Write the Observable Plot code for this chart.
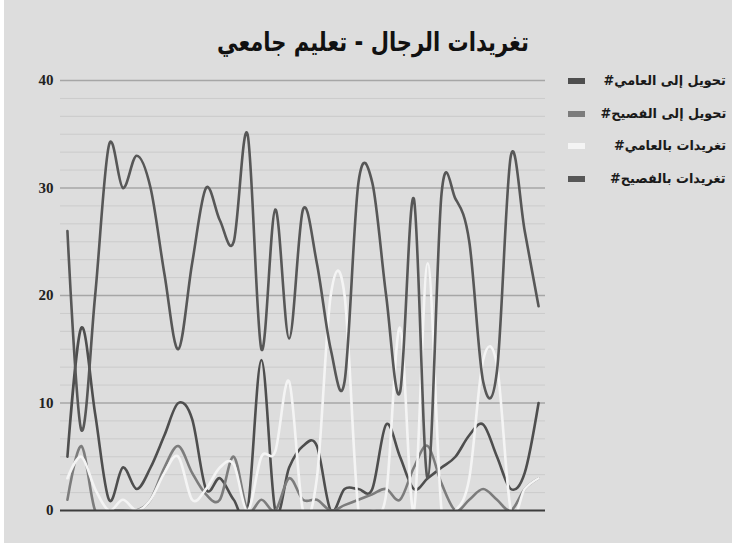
<!DOCTYPE html>
<html>
<head>
<meta charset="utf-8">
<script src="https://cdn.jsdelivr.net/npm/d3@7"></script>
<script src="https://cdn.jsdelivr.net/npm/@observablehq/plot@0.6"></script>
<style>
  html, body { margin: 0; padding: 0; background: #ffffff; }
  #wrap { position: relative; width: 728px; height: 543px; margin-left: 4px; background: #dddddd; overflow: hidden; }
  #chart { position: absolute; left: -4px; top: 0; }
  #title { position: absolute; left: 0; top: 25px; width: 738px; text-align: center; direction: rtl;
           font-family: "DejaVu Sans", sans-serif; font-weight: bold; font-size: 26px; line-height: 34px; color: #111;
           transform: scaleX(0.81); transform-origin: 369px 50%; }
  .lg-sw { position: absolute; width: 17px; height: 6px; }
  .lg-tx { position: absolute; direction: rtl; text-align: right; font-family: "DejaVu Sans", sans-serif;
           font-weight: bold; font-size: 13.5px; line-height: 18px; color: #1a1a1a; white-space: nowrap;
           transform: scaleX(0.95); transform-origin: 100% 50%; }
</style>
</head>
<body>
<div id="wrap">
  <div id="title">تغريدات الرجال - تعليم جامعي</div>
  <div id="chart"></div>
  <div id="legend"></div>
</div>
<script>
// ---- data ----
const titleText = "تغريدات الرجال - تعليم جامعي";
const seriesNames = ["تحويل إلى العامي#", "تحويل إلى الفصيح#", "تغريدات بالعامي#", "تغريدات بالفصيح#"];
const seriesColors = ["#4e4e4e", "#7c7c7c", "#f4f4f4", "#575757"];
const yTicks = [0, 10, 20, 30, 40];

const retweetColloquial = [5, 17, 9, 1, 4, 2, 4, 7, 10, 8.5, 2, 3, 1, 0, 14, 0, 4, 6, 6, 0, 2, 2, 2, 8, 5, 2, 3, 4, 5, 7, 8, 5, 2, 3.5, 10];
const retweetFusha = [1, 6, 0, 0, 0, 0, 1, 4, 6, 3.5, 1.5, 1, 5, 0, 1, 0, 3, 1, 1, 0, 0.5, 1, 1.5, 2, 1, 4, 6, 2.5, 0, 1, 2, 1, 0, 2, 3];
const tweetsColloquial = [3, 5, 2, 0, 1, 0, 1, 3.5, 5, 1, 2, 4, 4.3, 0, 5, 5.5, 12, 0, 3, 20, 20, 0, 0, 1.5, 17, 0, 23, 0, 0, 3, 14, 13.5, 0, 2, 3];
const tweetsFusha = [26, 7.5, 20, 34, 30, 33, 30, 22, 15, 23, 30, 27, 25, 35, 15, 28, 16, 28, 23, 15, 12, 30.5, 30.5, 20, 11, 29, 3, 29.5, 29, 25, 12, 13, 33, 26, 19];

const seriesValues = [retweetColloquial, retweetFusha, tweetsColloquial, tweetsFusha];

// tidy table
const rows = [];
seriesValues.forEach((vals, s) => vals.forEach((v, i) => rows.push({series: seriesNames[s], i, v})));

const minorTicks = d3.range(0, 25).map(k => k * 10 / 6).filter((v, k) => k % 6 !== 0);

const chart = Plot.plot({
  width: 732,
  height: 543,
  marginTop: 80,
  marginBottom: 33,
  marginLeft: 60,
  marginRight: 187,
  x: {domain: [-0.5, 34.5], axis: null},
  y: {domain: [0, 40], ticks: yTicks, tickSize: 0, tickPadding: 7, label: null},
  color: {domain: seriesNames, range: seriesColors},
  style: {background: "transparent", fontFamily: "'Liberation Serif', serif", fontSize: "15px", fontWeight: "bold", color: "#222", overflow: "visible"},
  marks: [
    Plot.ruleY(minorTicks, {stroke: "#cbcbcb", strokeWidth: 1}),
    Plot.ruleY(yTicks.filter(d => d > 0), {stroke: "#a6a6a6", strokeWidth: 1.6}),
    Plot.line(rows, {x: "i", y: "v", z: "series", stroke: "series", curve: "cardinal", strokeWidth: 2.6, clip: true}),
    Plot.ruleY([0], {stroke: "#3c3c3c", strokeWidth: 2})
  ]
});
document.getElementById("chart").appendChild(chart);

// legend
const legend = document.getElementById("legend");
const rowY = [81, 113.5, 146, 178.5];
seriesNames.forEach((name, k) => {
  const sw = document.createElement("div");
  sw.className = "lg-sw";
  sw.style.left = (568 - 4) + "px";
  sw.style.top = (rowY[k] - 3) + "px";
  sw.style.background = seriesColors[k];
  legend.appendChild(sw);
  const tx = document.createElement("div");
  tx.className = "lg-tx";
  tx.textContent = name;
  tx.style.right = "6px";
  tx.style.top = (rowY[k] - 10) + "px";
  legend.appendChild(tx);
});
</script>
</body>
</html>
